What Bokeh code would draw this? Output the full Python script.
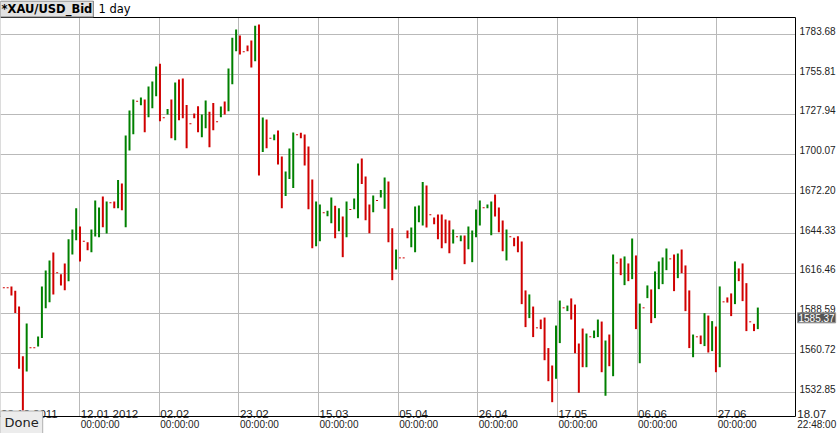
from bokeh.plotting import figure
from bokeh.models import (Range1d, LinearAxis, FixedTicker, Grid, Label,
                          ColumnDataSource, CustomJSTickFormatter, PrintfTickFormatter)
from bokeh.core.properties import value
from bokeh.embed import file_html
from bokeh.resources import INLINE

# ---------------- data ----------------
symbol = "*XAU/USD_Bid"
period = "1 day"
price_ticks = [1532.85, 1560.72, 1588.59, 1616.46, 1644.33,
               1672.20, 1700.07, 1727.94, 1755.81, 1783.68]
date_labels = ["23.12.2011", "12.01 2012", "02.02", "23.02", "15.03",
               "05.04", "26.04", "17.05", "06.06", "27.06"]
time_labels = ["00:00:00"] * 10
date_ticks = [0, 20.91, 41.82, 62.73, 83.64, 104.55, 125.46, 146.37, 167.28, 188.19]
end_tick = 209.1
end_date_label = "18.07"
end_time_label = "22:48:00"
last_price = 1585.37
last_price_label = "1585.37"
done_label = "Done"

bar_index = list(range(1, 200))
opens = [1606.4, 1606.4, 1607.4, 1604.3, 1593.3, 1558.5, 1547.8, 1564.4, 1564.4, 1565.3,
         1571.2, 1592.2, 1596.4, 1631.2, 1616.9, 1616.0, 1623.5, 1611.1, 1629.8, 1639.8,
         1649.4, 1639.1, 1638.4, 1631.4, 1642.4, 1641.9, 1670.4, 1644.5, 1666.0, 1666.9,
         1662.2, 1679.5, 1648.9, 1702.6, 1714.1, 1737.2, 1734.4, 1738.4, 1726.0, 1732.3,
         1740.7, 1763.4, 1725.5, 1727.9, 1738.4, 1709.9, 1752.4, 1753.1, 1734.6, 1721.3,
         1728.6, 1733.7, 1712.0, 1718.3, 1729.7, 1736.0, 1722.7, 1726.0, 1737.0, 1730.2,
         1749.1, 1772.2, 1783.2, 1771.8, 1776.2, 1779.7, 1765.2, 1790.9, 1701.5, 1724.4,
         1711.3, 1709.9, 1716.7, 1698.4, 1670.7, 1682.6, 1676.3, 1713.6, 1715.0, 1713.9,
         1705.4, 1682.3, 1635.6, 1639.1, 1659.0, 1656.6, 1651.7, 1663.9, 1646.1, 1656.4,
         1641.9, 1661.3, 1661.5, 1655.2, 1697.0, 1684.4, 1664.8, 1659.4, 1667.6, 1669.7,
         1661.8, 1680.9, 1648.2, 1619.3, 1627.4, 1627.4, 1646.6, 1634.9, 1631.4, 1652.4,
         1650.1, 1678.1, 1657.6, 1655.7, 1657.8, 1657.8, 1654.3, 1653.6, 1637.5, 1642.2,
         1639.1, 1643.1, 1633.5, 1624.4, 1641.9, 1650.1, 1662.5, 1662.2, 1643.3, 1671.8,
         1662.7, 1653.6, 1625.6, 1642.2, 1641.5, 1642.6, 1638.9, 1604.6, 1585.2, 1593.3,
         1578.4, 1584.2, 1585.6, 1564.2, 1552.0, 1542.7, 1567.7, 1592.4, 1590.1, 1599.0,
         1594.7, 1567.4, 1577.9, 1550.8, 1572.1, 1571.2, 1571.9, 1582.8, 1530.8, 1573.7,
         1544.5, 1623.9, 1627.0, 1608.3, 1623.5, 1612.5, 1629.1, 1553.6, 1592.4, 1599.2,
         1605.3, 1585.2, 1605.5, 1609.0, 1618.8, 1626.7, 1629.8, 1613.2, 1633.3, 1622.1,
         1604.6, 1557.8, 1572.1, 1573.0, 1565.6, 1587.0, 1562.1, 1579.3, 1550.8, 1596.6,
         1599.7, 1602.5, 1595.0, 1620.0, 1623.5, 1609.7, 1582.6, 1581.2, 1577.5]
closes = [1606.4, 1606.4, 1601.1, 1588.7, 1549.7, 1520.5, 1581.4, 1564.4, 1564.4, 1572.3,
          1607.4, 1618.6, 1625.6, 1601.8, 1616.9, 1608.1, 1604.8, 1640.5, 1647.3, 1662.2,
          1624.9, 1639.1, 1632.8, 1647.3, 1667.6, 1662.7, 1648.9, 1666.9, 1666.0, 1662.2,
          1681.9, 1660.8, 1713.2, 1730.7, 1738.4, 1737.2, 1739.8, 1715.5, 1747.5, 1751.0,
          1761.5, 1723.2, 1725.5, 1731.8, 1711.3, 1750.3, 1723.9, 1725.3, 1704.3, 1721.3,
          1725.3, 1715.5, 1727.9, 1737.7, 1705.0, 1716.9, 1722.7, 1733.5, 1727.9, 1760.1,
          1781.6, 1787.4, 1769.9, 1771.8, 1772.2, 1760.8, 1790.0, 1685.1, 1725.8, 1704.3,
          1711.3, 1713.9, 1692.8, 1662.2, 1687.9, 1704.0, 1715.3, 1713.6, 1711.3, 1692.1,
          1661.5, 1634.2, 1666.9, 1664.8, 1659.0, 1660.4, 1669.7, 1641.2, 1662.2, 1627.9,
          1666.9, 1661.3, 1669.0, 1693.5, 1679.1, 1653.8, 1644.7, 1671.1, 1667.6, 1674.9,
          1683.7, 1638.4, 1611.8, 1633.3, 1627.4, 1627.4, 1641.2, 1648.7, 1663.4, 1664.1,
          1680.5, 1648.7, 1657.6, 1651.0, 1640.5, 1634.2, 1637.7, 1630.7, 1647.3, 1642.2,
          1643.1, 1623.0, 1649.4, 1646.6, 1661.3, 1667.6, 1662.5, 1664.8, 1666.9, 1656.4,
          1645.4, 1632.1, 1647.3, 1642.2, 1635.6, 1631.4, 1595.0, 1578.9, 1601.8, 1571.9,
          1578.4, 1577.5, 1555.7, 1541.0, 1526.3, 1580.0, 1597.5, 1592.4, 1594.0, 1584.2,
          1560.6, 1532.9, 1550.8, 1574.4, 1572.1, 1576.5, 1584.2, 1547.3, 1569.5, 1551.5,
          1629.8, 1623.9, 1615.3, 1628.4, 1611.1, 1641.0, 1577.5, 1595.4, 1592.4, 1608.1,
          1581.7, 1617.9, 1624.9, 1627.7, 1634.0, 1626.7, 1604.1, 1630.5, 1616.7, 1590.1,
          1564.2, 1573.7, 1572.1, 1567.0, 1588.7, 1561.1, 1583.1, 1547.3, 1607.4, 1596.6,
          1596.1, 1586.6, 1624.9, 1611.1, 1597.1, 1576.1, 1582.6, 1576.1, 1592.6]

# ---------------- layout / style ----------------
CANVAS_W, CANVAS_H = 839, 433
PLOT_W, PLOT_H, PLOT_TOP = 795, 399, 17
PLOT_BOTTOM_GAP = CANVAS_H - PLOT_TOP - PLOT_H
PX_PER_BAR = 3.808
X0 = 0.1255                      # bar index at the left edge
XR = X0 + PLOT_W / PX_PER_BAR    # bar index at the right border
Y0, Y1 = 1516.27, 1795.82        # price at plot bottom / top
PPX = (Y1 - Y0) / PLOT_H         # price per pixel

UP = "#008000"
DOWN = "#d00000"
GRID = "#b9b9b9"
AXIS_FONT = "Liberation Sans"
TXT = "#222222"

half_min = PPX * 0.5
tops, bottoms, colors = [], [], []
for o, c in zip(opens, closes):
    hi, lo = max(o, c), min(o, c)
    if hi - lo < 2 * half_min:
        mid = (hi + lo) / 2
        hi, lo = mid + half_min, mid - half_min
    tops.append(hi)
    bottoms.append(lo)
    colors.append(UP if c > o else DOWN)

src = ColumnDataSource(dict(x=bar_index, top=tops, bottom=bottoms, color=colors))

p = figure(frame_width=CANVAS_W, frame_height=CANVAS_H,
           x_range=Range1d(X0, X0 + CANVAS_W / PX_PER_BAR),
           y_range=Range1d(Y0 - PLOT_BOTTOM_GAP * PPX, Y1 + PLOT_TOP * PPX),
           x_axis_location=None, y_axis_location=None,
           toolbar_location=None, output_backend="svg", min_border=0,
           background_fill_color="white", border_fill_color="white")
p.outline_line_color = None
p.xgrid.visible = False
p.ygrid.visible = False

# grids, limited to the plot area
p.add_layout(Grid(dimension=0, ticker=FixedTicker(ticks=date_ticks), cross_bounds=(Y0, Y1),
                  grid_line_color=GRID, grid_line_width=1))
p.add_layout(Grid(dimension=1, ticker=FixedTicker(ticks=price_ticks), cross_bounds=(X0, XR),
                  grid_line_color=GRID, grid_line_width=1))

# label ranges shifted so labels sit right of / above their grid lines
label_dx = 20.5 / PX_PER_BAR
label_dy = 4 * PPX
p.extra_x_ranges = {"xlab": Range1d(p.x_range.start - label_dx, p.x_range.end - label_dx)}
p.extra_y_ranges = {"ylab": Range1d(p.y_range.start - label_dy, p.y_range.end - label_dy)}

# bars
p.vbar(x="x", top="top", bottom="bottom", width=2 / PX_PER_BAR,
       fill_color="color", line_color=None, source=src)


def style_axis(ax, size="10px"):
    ax.axis_line_color = "black"
    ax.axis_line_width = 1
    ax.major_tick_line_color = None
    ax.minor_tick_line_color = None
    ax.major_tick_in = 0
    ax.major_tick_out = 0
    ax.major_label_text_font = AXIS_FONT
    ax.major_label_text_font_size = size
    ax.major_label_text_color = TXT


# right price axis (plot's right border)
yax = LinearAxis(y_range_name="ylab", fixed_location=XR,
                 bounds=(Y0 - label_dy, Y1 - label_dy),
                 ticker=FixedTicker(ticks=price_ticks),
                 formatter=PrintfTickFormatter(format="%.2f"))
style_axis(yax)
yax.major_label_standoff = 4
p.add_layout(yax, "right")

# bottom time axis (plot's bottom border)
xax = LinearAxis(x_range_name="xlab", fixed_location=Y0,
                 bounds=(X0 - label_dx, XR - label_dx),
                 ticker=FixedTicker(ticks=date_ticks),
                 formatter=CustomJSTickFormatter(
                     args=dict(tick_vals=date_ticks, tick_texts=time_labels),
                     code="const i = tick_vals.findIndex(t => Math.abs(t - tick) < 1e-6);"
                          "return i >= 0 ? tick_texts[i] : '';"))
style_axis(xax)
xax.major_label_standoff = 2
p.add_layout(xax, "below")

# top border line
tax = LinearAxis(fixed_location=Y1, bounds=(X0, XR), ticker=FixedTicker(ticks=[]))
style_axis(tax, "0px")
p.add_layout(tax, "above")

# date labels just above the bottom line
p.text(x=date_ticks, y=Y0 + 3 * PPX, text=date_labels,
       x_offset=1, text_align="left", text_baseline="alphabetic",
       text_font=value(AXIS_FONT), text_font_size="11.5px", text_color=TXT)
p.text(x=[end_tick], y=Y0 + 3 * PPX, text=[end_date_label],
       x_offset=1, text_align="left", text_baseline="alphabetic",
       text_font=value(AXIS_FONT), text_font_size="11.5px", text_color=TXT)
p.text(x=[end_tick], y=Y0 - 8 * PPX, text=[end_time_label],
       x_offset=1, text_align="left", text_baseline="middle",
       text_font=value(AXIS_FONT), text_font_size="10px", text_color=TXT)

# title
p.add_layout(Label(x=0, y=CANVAS_H - 8.5, x_units="screen", y_units="screen",
                   text=symbol, text_align="left", text_baseline="middle",
                   text_font="DejaVu Sans", text_font_style="bold", text_font_size="11.5px",
                   text_color="#000000", background_fill_color="#e2e2e2",
                   border_line_color="#777777", padding=1))
p.add_layout(Label(x=98, y=CANVAS_H - 8.5, x_units="screen", y_units="screen",
                   text=period, text_align="left", text_baseline="middle",
                   text_font="DejaVu Sans", text_font_size="11.5px", text_color="#000000"))

# last price marker
p.add_layout(Label(x=PLOT_W + 2, y=last_price, x_units="screen", text=last_price_label,
                   text_align="left", text_baseline="middle",
                   text_font=AXIS_FONT, text_font_size="10px", text_color="white",
                   background_fill_color="#555555", border_line_color="#999999", padding=1))

# "Done" status box
p.add_layout(Label(x=0, y=11, x_units="screen", y_units="screen", text=done_label,
                   text_align="left", text_baseline="middle",
                   text_font="DejaVu Sans", text_font_size="13px", text_color=TXT,
                   background_fill_color="#ececec", border_line_color="#b0b0b0", padding=4))

open("out.html", "w").write(file_html(p, INLINE))
